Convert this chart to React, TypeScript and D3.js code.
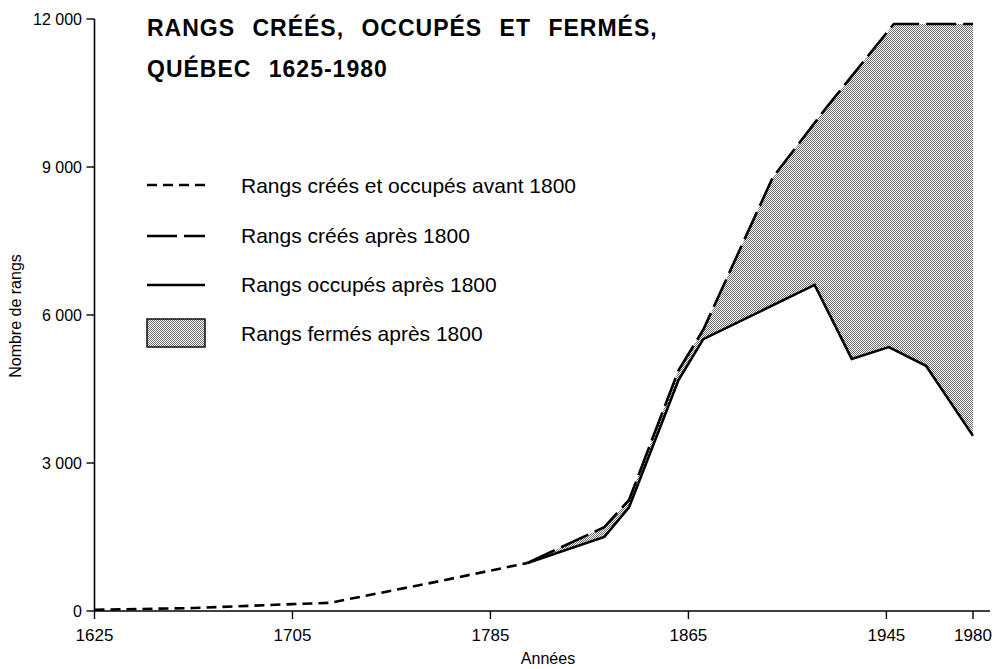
import React from 'react';
import * as d3 from 'd3';

// rangs créés et occupés avant 1800 (une seule courbe)
const anneesAvant = [1625, 1665, 1705, 1720, 1760, 1800];
const rangsAvant = [25, 60, 140, 165, 560, 975];

// rangs créés après 1800
const anneesCrees = [1800, 1831, 1841, 1861, 1871, 1899, 1921, 1948, 1980];
const rangsCrees = [975, 1700, 2250, 4880, 5700, 8780, 10220, 11900, 11900];

// rangs occupés après 1800
const anneesOccupes = [1800, 1831, 1841, 1861, 1871, 1916, 1931, 1946, 1961, 1980];
const rangsOccupes = [975, 1500, 2100, 4680, 5510, 6610, 5110, 5350, 4970, 3550];

const xTicks = [1625, 1705, 1785, 1865, 1945, 1980];
const yTicks = [0, 3000, 6000, 9000, 12000];
const yTickLabels = ['0', '3 000', '6 000', '9 000', '12 000'];

const legendLabels = [
  'Rangs créés et occupés avant 1800',
  'Rangs créés après 1800',
  'Rangs occupés après 1800',
  'Rangs fermés après 1800',
];

const FONT = '"Liberation Sans", Arial, Helvetica, sans-serif';

export default function App() {
  const width = 998;
  const height = 669;

  const x = d3.scaleLinear().domain([1625, 1980]).range([94.5, 973]);
  const y = d3.scaleLinear().domain([0, 12000]).range([611, 19]);

  const line = d3
    .line<[number, number]>()
    .x((d) => x(d[0]))
    .y((d) => y(d[1]));

  const avant: [number, number][] = anneesAvant.map((a, i) => [a, rangsAvant[i]]);
  const crees: [number, number][] = anneesCrees.map((a, i) => [a, rangsCrees[i]]);
  const occupes: [number, number][] = anneesOccupes.map((a, i) => [a, rangsOccupes[i]]);

  // zone fermée = entre créés et occupés
  const fermes = crees.concat(occupes.slice().reverse());
  const zonePath = line(fermes) + 'Z';

  const legendRows = [193, 243, 292, 341];

  return (
    <svg
      width={width}
      height={height}
      style={{ position: 'absolute', left: 0, top: 0, background: '#fff' }}
      fontFamily={FONT}
    >
      <defs>
        <pattern id="trame" width={2} height={2} patternUnits="userSpaceOnUse">
          <rect width={2} height={2} fill="#fff" />
          <rect x={0} y={0} width={1} height={1} fill="#6e6e6e" />
          <rect x={1} y={1} width={1} height={1} fill="#6e6e6e" />
        </pattern>
      </defs>

      {/* zone des rangs fermés */}
      <path d={zonePath} fill="url(#trame)" stroke="none" />

      {/* courbes */}
      <path d={line(avant) || ''} fill="none" stroke="#000" strokeWidth={2.6} strokeDasharray="10,6" />
      <path d={line(occupes) || ''} fill="none" stroke="#000" strokeWidth={2.6} />
      <path d={line(crees) || ''} fill="none" stroke="#000" strokeWidth={2.6} strokeDasharray="30,7" />

      {/* axe Y */}
      <line x1={x(1625)} x2={x(1625)} y1={y(0)} y2={y(12000)} stroke="#000" strokeWidth={1.6} />
      {yTicks.map((t, i) => (
        <g key={t}>
          <line x1={x(1625) - 8} x2={x(1625)} y1={y(t)} y2={y(t)} stroke="#000" strokeWidth={1.4} />
          <text x={82} y={y(t) + 6} textAnchor="end" fontSize={16}>
            {yTickLabels[i]}
          </text>
        </g>
      ))}
      <text transform={`translate(21,316) rotate(-90)`} textAnchor="middle" fontSize={16}>
        Nombre de rangs
      </text>

      {/* axe X */}
      <line x1={x(1625)} x2={990} y1={y(0)} y2={y(0)} stroke="#000" strokeWidth={1.6} />
      {xTicks.map((t) => (
        <g key={t}>
          <line x1={x(t)} x2={x(t)} y1={y(0)} y2={y(0) + 8} stroke="#000" strokeWidth={1.4} />
          <text x={x(t)} y={y(0) + 30} textAnchor="middle" fontSize={17}>
            {t}
          </text>
        </g>
      ))}
      <text x={548} y={664} textAnchor="middle" fontSize={16}>
        Années
      </text>

      {/* titre */}
      <text x={147} y={36} fontSize={23} fontWeight="bold" letterSpacing={1} wordSpacing={10}>
        RANGS CRÉÉS, OCCUPÉS ET FERMÉS,
      </text>
      <text x={147} y={77} fontSize={23} fontWeight="bold" letterSpacing={1} wordSpacing={10}>
        QUÉBEC 1625-1980
      </text>

      {/* légende */}
      <line x1={147} x2={205} y1={185} y2={185} stroke="#000" strokeWidth={2.4} strokeDasharray="10,6" />
      <line x1={147} x2={205} y1={236} y2={236} stroke="#000" strokeWidth={2.4} strokeDasharray="30,7" />
      <line x1={147} x2={205} y1={285} y2={285} stroke="#000" strokeWidth={2.4} />
      <rect x={147} y={319} width={58} height={28} fill="url(#trame)" stroke="#000" strokeWidth={1.4} />
      {legendLabels.map((l, i) => (
        <text key={l} x={241} y={legendRows[i]} fontSize={21}>
          {l}
        </text>
      ))}
    </svg>
  );
}
